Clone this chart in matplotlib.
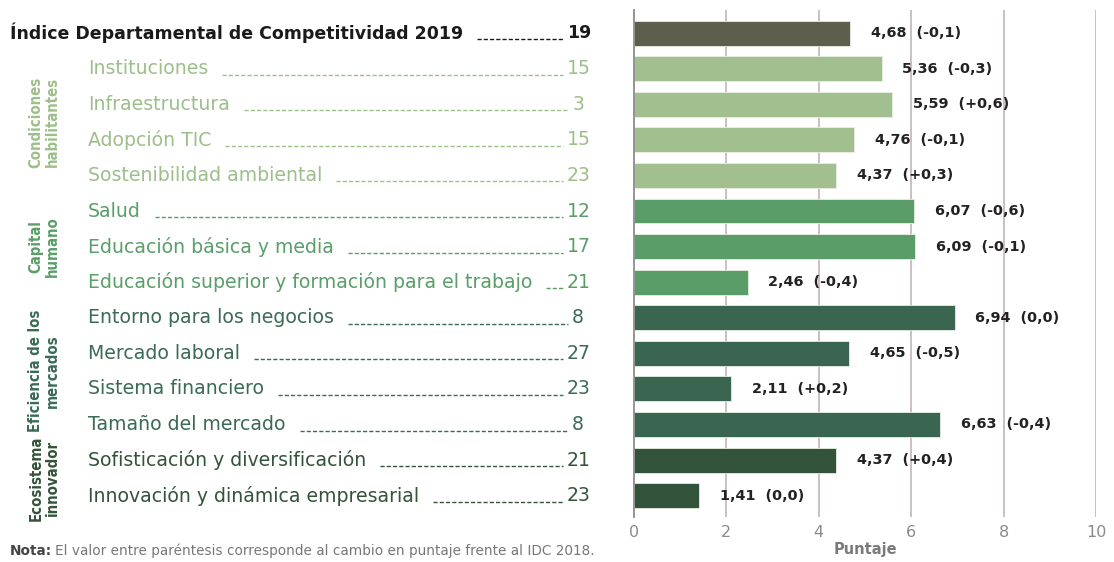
import matplotlib
matplotlib.use("Agg")
import matplotlib.pyplot as plt
from matplotlib import font_manager as fm
from matplotlib.font_manager import FontProperties
from matplotlib.lines import Line2D

# ---------------- data ----------------
labels = [
    "Índice Departamental de Competitividad 2019",
    "Instituciones",
    "Infraestructura",
    "Adopción TIC",
    "Sostenibilidad ambiental",
    "Salud",
    "Educación básica y media",
    "Educación superior y formación para el trabajo",
    "Entorno para los negocios",
    "Mercado laboral",
    "Sistema financiero",
    "Tamaño del mercado",
    "Sofisticación y diversificación",
    "Innovación y dinámica empresarial",
]
ranks = [19, 15, 3, 15, 23, 12, 17, 21, 8, 27, 23, 8, 21, 23]
scores = [4.68, 5.36, 5.59, 4.76, 4.37, 6.07, 6.09, 2.46, 6.94, 4.65, 2.11, 6.63, 4.37, 1.41]
changes = ["-0,1", "-0,3", "+0,6", "-0,1", "+0,3", "-0,6", "-0,1", "-0,4", "0,0", "-0,5", "+0,2", "-0,4", "+0,4", "0,0"]
groups = ["IDC", "CH", "CH", "CH", "CH", "KH", "KH", "KH", "EM", "EM", "EM", "EM", "EI", "EI"]
group_names = {
    "CH": "Condiciones\nhabilitantes",
    "KH": "Capital\nhumano",
    "EM": "Eficiencia de los\nmercados",
    "EI": "Ecosistema\ninnovador",
}
x_ticks = [0, 2, 4, 6, 8, 10]
note_bold = "Nota:"
note_text = "El valor entre paréntesis corresponde al cambio en puntaje frente al IDC 2018."

bar_colors = {"IDC": "#5d5e4c", "CH": "#a2bf8f", "KH": "#5b9d69", "EM": "#3a6651", "EI": "#32523a"}
text_colors = {"IDC": "#1a1a1a", "CH": "#9dbf8a", "KH": "#5a9e69", "EM": "#3a6b55", "EI": "#34543a"}

label_font = "DejaVu Sans"


def pick_narrow():
    cands = []
    for f in fm.fontManager.ttflist:
        fn = f.fname.lower()
        narrow = ("condensed" in fn or "narrow" in fn or f.stretch in ("condensed", "semi-condensed", "extra-condensed")
                  or (isinstance(f.stretch, int) and f.stretch < 500))
        if not narrow or "oblique" in fn or "italic" in fn:
            continue
        w = f.weight if isinstance(f.weight, int) else (700 if "bold" in str(f.weight) else 400)
        score = abs(w - 700)
        if "extra" in fn or "ultra" in fn:
            score += 50
        cands.append((score, f.fname))
    if cands:
        cands.sort()
        return FontProperties(fname=cands[0][1])
    return FontProperties(family="Roboto", weight="bold")


narrow_fp = pick_narrow()

W, H = 1114, 562
fig = plt.figure(figsize=(W / 100, H / 100), dpi=100)
fig.patch.set_facecolor("white")
fig.canvas.draw()
renderer = fig.canvas.get_renderer()


def fx(px):
    return px / W


def fy(py):
    return 1 - py / H


def fit(t, target_px):
    w = t.get_window_extent(renderer).width
    if w > 0:
        t.set_fontsize(t.get_fontsize() * target_px / w)
    return t


ax = fig.add_axes([fx(634), fy(517), fx(1096) - fx(634), fy(10) - fy(517)])
n = len(labels)
ypos = list(range(n))
ax.barh(ypos, scores, height=0.7, color=[bar_colors[g] for g in groups],
        edgecolor="#e8eee4", linewidth=0.6, zorder=3)
ax.set_xlim(0, 10)
ax.set_ylim(n - 1 + 0.6, -0.65)
ax.set_yticks([])
ax.set_xticks(x_ticks)
ax.set_xticklabels([str(t) for t in x_ticks], color="#8a8a8a", fontsize=11.5)
ax.tick_params(axis="x", length=0, pad=6)
for s in ["top", "right", "bottom"]:
    ax.spines[s].set_visible(False)
ax.spines["left"].set_color("#8c8c8c")
ax.spines["left"].set_linewidth(1.3)
ax.spines["left"].set_zorder(4)
for t in x_ticks[1:]:
    ax.axvline(t, color="#c4b4b4", linewidth=1.2, zorder=1)
ax.set_xlabel("Puntaje", color="#7a7a7a", fontsize=10.5, fontweight="bold",
              family="DejaVu Sans", labelpad=1)

for i, (v, c) in enumerate(zip(scores, changes)):
    ax.annotate(f"{v:.2f}".replace(".", ",") + f"  ({c})", (v, i), xytext=(15, 0),
                textcoords="offset points", va="center", ha="left",
                fontsize=10.4, fontweight="bold", color="#222222", family="DejaVu Sans")

# ---------------- left labels ----------------
row_px = [33 + i * 35.6 for i in range(n)]

probe = fig.text(0, 0, labels[7], fontsize=12, family=label_font)
fit(probe, 440)
lab_size = probe.get_fontsize()
probe.remove()
probe = fig.text(0, 0, labels[0], fontsize=12, family=label_font, fontweight="bold")
fit(probe, 452)
title_size = probe.get_fontsize()
probe.remove()

for i, (lab, r, g) in enumerate(zip(labels, ranks, groups)):
    ypx = row_px[i]
    col = text_colors[g]
    if g == "IDC":
        t = fig.text(fx(10), fy(ypx), lab, ha="left", va="center", fontsize=title_size,
                     fontweight="bold", color=col, family=label_font)
        rt = fig.text(fx(591), fy(ypx), str(r), ha="right", va="center",
                      fontsize=title_size, fontweight="bold", color=col, family=label_font)
    else:
        t = fig.text(fx(88), fy(ypx), lab, ha="left", va="center", fontsize=lab_size,
                     color=col, family=label_font)
        rt = fig.text(fx(591 if r >= 10 else 584), fy(ypx), str(r), ha="right", va="center",
                      fontsize=lab_size, color=col, family=label_font)
    bb = t.get_window_extent(renderer)
    rb = rt.get_window_extent(renderer)
    x0 = bb.x1 + 14
    x1 = rb.x0 - 4
    ybase = fy(ypx + 6)
    if x1 > x0:
        fig.add_artist(Line2D([x0 / W, x1 / W], [ybase, ybase], transform=fig.transFigure,
                              color=col, linewidth=1.0, linestyle=(0, (3.0, 1.5))))

# ---------------- group labels ----------------
probe = fig.text(0, 0, "Eficiencia de los", fontproperties=narrow_fp)
probe.set_fontsize(12)
fit(probe, 122)
grp_size = probe.get_fontsize()
probe.remove()

grp_centers = {}
for i, g in enumerate(groups):
    grp_centers.setdefault(g, []).append(row_px[i])
for g, name in group_names.items():
    yc = sum(grp_centers[g]) / len(grp_centers[g])
    tt = fig.text(fx(44), fy(yc), name, rotation=90, ha="center", va="center",
                  fontproperties=narrow_fp, color=text_colors[g],
                  linespacing=1.12, multialignment="center")
    tt.set_fontsize(grp_size)

# ---------------- note ----------------
nt = fig.text(fx(10), fy(551), note_bold, ha="left", va="center", fontsize=8,
              fontweight="bold", color="#444444", family=label_font)
nr = fig.text(fx(60), fy(551), note_text, ha="left", va="center", fontsize=8,
              color="#777777", family=label_font)
w_total = nt.get_window_extent(renderer).width + 3 + nr.get_window_extent(renderer).width
k = 582 / w_total
nt.set_fontsize(8 * k)
nr.set_fontsize(8 * k)
nb = nt.get_window_extent(renderer)
nr.set_x((nb.x1 + 3) / W)

fig.savefig("out.png", dpi=100, facecolor="white")
